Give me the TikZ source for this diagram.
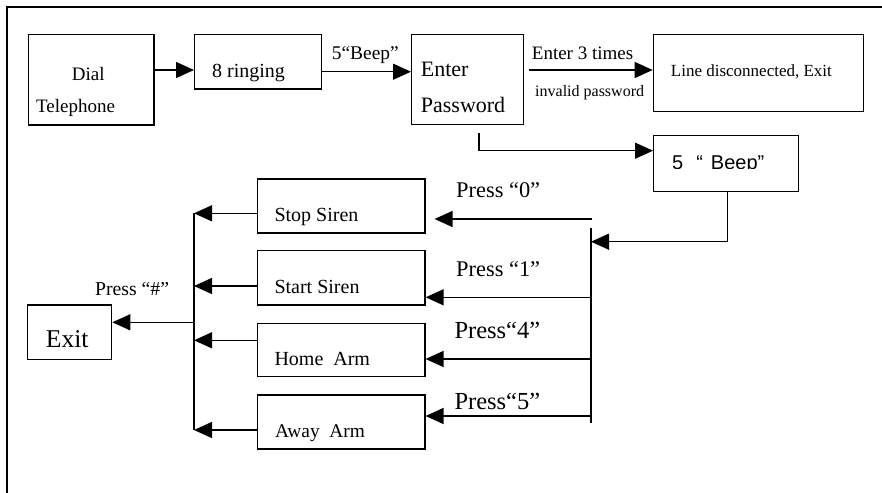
\documentclass[tikz,border=0pt]{standalone}
\usepackage{fontspec}
\setmainfont{Liberation Serif}
\newfontfamily\arialf{Liberation Sans}
\usetikzlibrary{arrows.meta}
\begin{document}
\begin{tikzpicture}[x=1pt,y=-1pt,
  box/.style={draw,line width=1.3pt,inner sep=0pt,anchor=north west},
  lbl/.style={anchor=base west,inner sep=0pt},
  arr/.style={line width=1.3pt,-{Triangle[length=18pt,width=16pt]}},
  ln/.style={line width=1.3pt},
  fs/.style={font=\fontsize{#1}{#1}\selectfont}]
\useasboundingbox (0,0) rectangle (882,492);
\fill[white] (0,0) rectangle (882,492);
\draw[line width=1.8pt] (7.3,500) -- (7.3,6.7) -- (890,6.7);

% boxes
\node[box,minimum width=125.6pt,minimum height=90.3pt] (dial) at (27.7,34) {};
\node[box,minimum width=126.7pt,minimum height=54.3pt] (ring) at (194,34) {};
\node[box,minimum width=112pt,minimum height=90pt] (pwd) at (411,34) {};
\node[box,minimum width=210pt,minimum height=76.7pt] (line) at (652.7,34) {};
\node[box,minimum width=145pt,minimum height=56pt] (beep) at (653,135) {};
\node[box,minimum width=167.6pt,minimum height=54pt] (stop) at (256.7,178.3) {};
\node[box,minimum width=167.6pt,minimum height=54.3pt] (start) at (256.7,250) {};
\node[box,minimum width=167.6pt,minimum height=53.3pt] (home) at (256.7,322.7) {};
\node[box,minimum width=167.6pt,minimum height=54pt] (away) at (256.7,394.3) {};
\node[box,minimum width=84.3pt,minimum height=54.7pt] (exit) at (26.7,304.3) {};

% texts
\node[lbl,fs=19] (t1) at (71.7,80.7) {Dial};
\node[lbl,fs=19] (t2) at (36,113) {Telephone};
\node[lbl,fs=20] (t3) at (212,78) {8 ringing};
\node[lbl,fs=19.4] (t4) at (331.7,60) {5“Beep”};
\node[lbl,fs=22] (t5) at (420.7,77) {Enter};
\node[lbl,fs=22] (t6) at (420.7,113) {Password};
\node[lbl,fs=19] (t7) at (531.7,60) {Enter 3 times};
\node[lbl,fs=16] (t8) at (535,96.7) {invalid password};
\node[lbl,fs=17] (t9) at (670.7,76.7) {Line disconnected, Exit};
\begin{scope}
\clip (653,135) rectangle (798,168.5);
\node[lbl,font=\arialf\fontsize{20}{20}\selectfont] (t10) at (672,169.5) {5\hspace{13pt}“\hspace{8pt}Beep”};
\end{scope}
\node[lbl,fs=22.4] (t11) at (456,197) {Press “0”};
\node[lbl,fs=22.4] (t12) at (456,276) {Press “1”};
\node[lbl,fs=24.5] (t13) at (454.3,338) {Press“4”};
\node[lbl,fs=24.5] (t14) at (454.3,409) {Press“5”};
\node[lbl,fs=20] (t15) at (274.3,221.7) {Stop Siren};
\node[lbl,fs=20] (t16) at (274.3,293.3) {Start Siren};
\node[lbl,fs=20] (t17) at (274.3,365) {Home\ \ Arm};
\node[lbl,fs=19.4] (t18) at (275,437) {Away\ \ Arm};
\node[lbl,fs=19.7] (t19) at (95,295) {Press “\#”};
\node[lbl,fs=25.6] (t20) at (45.7,347.3) {Exit};

% top row connectors
\draw[arr] ([yshift=-36pt]dial.north east) -- ([yshift=-36pt]ring.north west);
\draw[arr] ([yshift=-37.7pt]ring.north east) -- ([yshift=-37.7pt]pwd.north west);
\draw[arr] ([xshift=4.7pt,yshift=-36pt]pwd.north east) -- ([yshift=-36pt]line.north west);
\draw[arr] ([xshift=68pt,yshift=-7.7pt]pwd.south west) |- ([yshift=-15.7pt]beep.north west);

% right bus
\coordinate (bRtop) at (591,228.3);
\coordinate (bRbot) at (591,423.3);
\coordinate (bRin) at (591,241.7);
\draw[ln] (bRtop) -- (bRbot);
\draw[arr] ([xshift=1.2pt]beep.south) |- (bRin);
\coordinate (p0) at (592.3,219);
\coordinate (p1) at (591,297.3);
\coordinate (p4) at (591,359);
\coordinate (p5) at (591,416);
\draw[arr] (p0) -- ([xshift=9pt,yshift=-40.7pt]stop.north east);
\draw[arr] (p1) -- ([yshift=-47.3pt]start.north east);
\draw[arr] (p4) -- ([yshift=-36.3pt]home.north east);
\draw[arr] (p5) -- ([yshift=-21.7pt]away.north east);

% left bus
\coordinate (bL1) at (194,213.3);
\coordinate (bL2) at (194,286);
\coordinate (bL3) at (194,340.3);
\coordinate (bL4) at (194,430);
\coordinate (bLx) at (194,322.3);
\draw[ln] (bL1) -- (bL4);
\draw[arr] ([yshift=-35pt]stop.north west) -- (bL1);
\draw[arr] ([yshift=-36pt]start.north west) -- (bL2);
\draw[arr] ([yshift=-17.6pt]home.north west) -- (bL3);
\draw[arr] ([yshift=-35.7pt]away.north west) -- (bL4);
\draw[arr] (bLx) -- ([yshift=-18pt]exit.north east);
\end{tikzpicture}
\end{document}
